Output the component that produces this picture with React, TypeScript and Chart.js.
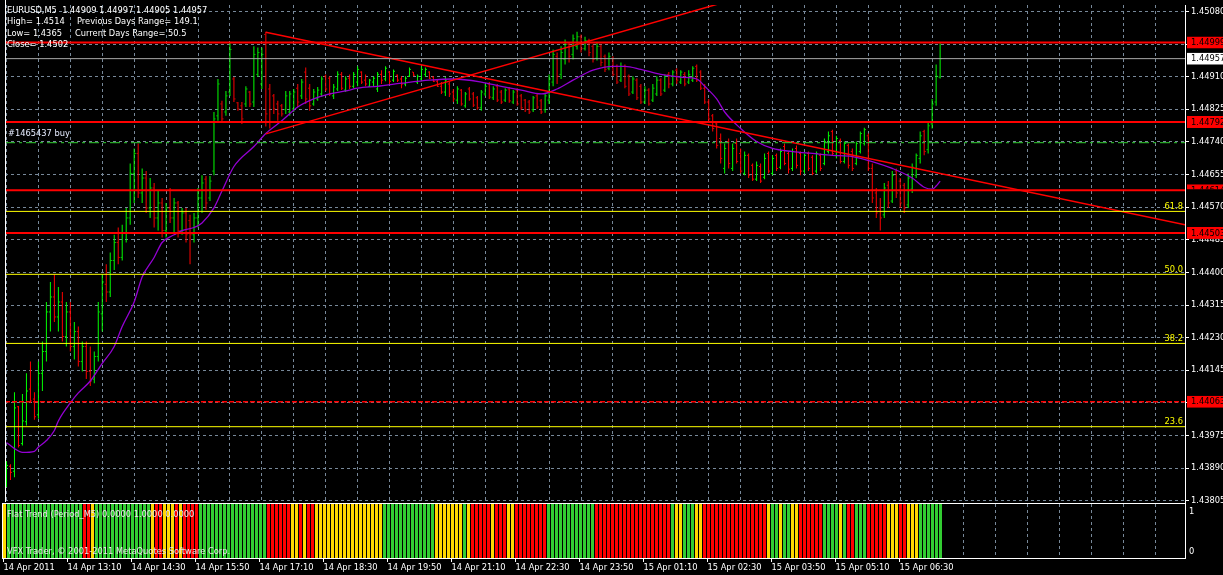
import React, { useEffect, useRef } from "react";
import { Chart, registerables } from "chart.js";

Chart.register(...registerables);

// ---------- data (EURUSD M5, bar 0 = 14 Apr 11:50) ----------
const barOpen = [
  1.43859, 1.43895, 1.43882, 1.4405, 1.43954, 1.44011, 1.44096, 1.4407, 1.44029, 1.44137,
  1.44194, 1.44297, 1.44336, 1.44284, 1.44323, 1.44233, 1.44297, 1.44207, 1.44246, 1.44168,
  1.44207, 1.44142, 1.44122, 1.44181, 1.44292, 1.44369, 1.44349, 1.44431, 1.44478, 1.44439,
  1.44504, 1.44542, 1.44658, 1.4471, 1.44607, 1.44646, 1.44568, 1.4462, 1.44542, 1.44581,
  1.44509, 1.44568, 1.44542, 1.44581, 1.44509, 1.44555, 1.44535, 1.44498, 1.44542, 1.44594,
  1.44643, 1.44594, 1.44664, 1.44808, 1.44839, 1.44818, 1.4487, 1.44904, 1.44842, 1.44834,
  1.44839, 1.4487, 1.44844, 1.44916, 1.44891, 1.4502, 1.44878, 1.4486, 1.44839, 1.44834,
  1.44824, 1.44818, 1.44826, 1.4488, 1.4486, 1.44922, 1.4488, 1.44839, 1.44852, 1.44865,
  1.44911, 1.44906, 1.4486, 1.44878, 1.44916, 1.44875, 1.44906, 1.44885, 1.44896, 1.44922,
  1.44901, 1.44885, 1.44896, 1.44878, 1.44916, 1.44904, 1.44922, 1.44901, 1.44914, 1.44904,
  1.44891, 1.44911, 1.44922, 1.44896, 1.44904, 1.44916, 1.44922, 1.44909, 1.44898, 1.44885,
  1.4487, 1.44891, 1.4487, 1.44849, 1.44875, 1.44834, 1.44878, 1.44865, 1.44855, 1.44829,
  1.44865, 1.44891, 1.44855, 1.44885, 1.4487, 1.44849, 1.44878, 1.44844, 1.44875, 1.4486,
  1.44849, 1.44844, 1.44824, 1.4486, 1.44847, 1.44824, 1.44849, 1.44896, 1.44963, 1.44916,
  1.44955, 1.44994, 1.44968, 1.44989, 1.45014, 1.44983, 1.45004, 1.44989, 1.44958, 1.44989,
  1.44963, 1.44932, 1.44958, 1.44937, 1.44901, 1.44937, 1.44911, 1.4487, 1.44901, 1.44885,
  1.44844, 1.44875, 1.44849, 1.44865, 1.44901, 1.44875, 1.44916, 1.44891, 1.44927, 1.44896,
  1.44916, 1.44896, 1.44901, 1.44937, 1.44922, 1.4488, 1.44844, 1.44808, 1.44787, 1.44749,
  1.44671, 1.44741, 1.44671, 1.44736, 1.4471, 1.44658, 1.44705, 1.44679, 1.44643, 1.44676,
  1.44648, 1.4471, 1.44658, 1.44705, 1.44674, 1.44728, 1.4471, 1.44671, 1.44723, 1.4471,
  1.44664, 1.4471, 1.447, 1.44664, 1.44705, 1.44684, 1.44715, 1.44767, 1.44705, 1.44744,
  1.44689, 1.44731, 1.44715, 1.44684, 1.44715, 1.44736, 1.44756, 1.44671, 1.44607, 1.44568,
  1.4455, 1.44627, 1.44586, 1.44664, 1.44638, 1.44627, 1.44576, 1.44617, 1.44653, 1.44697,
  1.44767, 1.4472, 1.44787, 1.44844, 1.44909,
];
const barHigh = [
  1.43908, 1.439, 1.44088, 1.44052, 1.44083, 1.44137, 1.44168, 1.44088, 1.44168, 1.4422,
  1.44323, 1.44375, 1.44395, 1.44362, 1.44349, 1.44323, 1.44323, 1.44271, 1.44259, 1.4422,
  1.4422, 1.44207, 1.44194, 1.44323, 1.44395, 1.44421, 1.44452, 1.44498, 1.44517, 1.44524,
  1.44568, 1.44684, 1.44723, 1.44736, 1.44671, 1.44664, 1.44646, 1.44633, 1.44612, 1.44594,
  1.44581, 1.4462, 1.44594, 1.44586, 1.44568, 1.44568, 1.4455, 1.44555, 1.4462, 1.44653,
  1.44651, 1.44651, 1.44818, 1.44904, 1.44847, 1.44873, 1.44999, 1.44909, 1.44844, 1.44844,
  1.44885, 1.44873, 1.44989, 1.44986, 1.44986, 1.45027, 1.44891, 1.44865, 1.44847, 1.44839,
  1.44873, 1.44873, 1.44878, 1.44891, 1.44904, 1.44934, 1.44891, 1.44878, 1.44883, 1.44911,
  1.44916, 1.44911, 1.44891, 1.44924, 1.44922, 1.44911, 1.44916, 1.44922, 1.44937, 1.44924,
  1.44916, 1.44904, 1.44911, 1.44922, 1.44927, 1.44937, 1.44924, 1.44929, 1.44916, 1.44911,
  1.44911, 1.44934, 1.44922, 1.44916, 1.44937, 1.44934, 1.44924, 1.44911, 1.44904, 1.44896,
  1.44909, 1.44896, 1.44878, 1.44885, 1.44878, 1.4487, 1.44883, 1.4487, 1.4486, 1.44875,
  1.44891, 1.44896, 1.44885, 1.44891, 1.44875, 1.4488, 1.44883, 1.44875, 1.4488, 1.44865,
  1.44852, 1.44849, 1.4486, 1.44865, 1.44852, 1.44865, 1.44916, 1.44981, 1.44973, 1.44989,
  1.45007, 1.44999, 1.4502, 1.45027, 1.4502, 1.45014, 1.45009, 1.44994, 1.44999, 1.44994,
  1.44968, 1.44973, 1.44963, 1.44942, 1.44947, 1.44942, 1.44916, 1.44911, 1.44906, 1.44891,
  1.44885, 1.4488, 1.44891, 1.44911, 1.44906, 1.44916, 1.44922, 1.44927, 1.44932, 1.44927,
  1.44922, 1.44927, 1.44937, 1.44942, 1.44927, 1.44891, 1.44852, 1.44813, 1.44793, 1.44762,
  1.44736, 1.44749, 1.44736, 1.44749, 1.44723, 1.44715, 1.4471, 1.44684, 1.44689, 1.44684,
  1.4471, 1.44715, 1.44705, 1.4471, 1.44723, 1.44736, 1.44715, 1.44723, 1.44731, 1.44715,
  1.4471, 1.44715, 1.44705, 1.44715, 1.4471, 1.44749, 1.44767, 1.44772, 1.44756, 1.44749,
  1.44741, 1.44736, 1.44723, 1.44741, 1.44767, 1.44777, 1.44762, 1.44684, 1.4462, 1.44594,
  1.44633, 1.44638, 1.44664, 1.44671, 1.44646, 1.44633, 1.44658, 1.44684, 1.4471, 1.44767,
  1.44772, 1.44793, 1.44852, 1.44942, 1.44997,
];
const barLow = [
  1.43841, 1.43859, 1.43866, 1.43944, 1.43949, 1.44001, 1.4406, 1.44016, 1.44019, 1.44091,
  1.44168, 1.44246, 1.44271, 1.44246, 1.4422, 1.44207, 1.44194, 1.44173, 1.44155, 1.44142,
  1.44122, 1.44104, 1.44111, 1.44168, 1.44246, 1.44323, 1.44336, 1.44406, 1.44421, 1.44431,
  1.44478, 1.44524, 1.44581, 1.44594, 1.44581, 1.44555, 1.44542, 1.44517, 1.44509, 1.44491,
  1.44491, 1.44529, 1.44504, 1.44491, 1.44498, 1.44478, 1.44421, 1.44478, 1.44517, 1.44555,
  1.44563, 1.44586, 1.44653, 1.44795, 1.44793, 1.44808, 1.4486, 1.44844, 1.44821, 1.44787,
  1.44831, 1.44831, 1.44831, 1.44909, 1.44878, 1.4478, 1.44775, 1.44813, 1.44795, 1.44806,
  1.44813, 1.44808, 1.44818, 1.44831, 1.44852, 1.44839, 1.44821, 1.44834, 1.44847, 1.44857,
  1.44873, 1.4486, 1.44852, 1.44873, 1.44875, 1.4487, 1.44878, 1.4488, 1.44885, 1.44891,
  1.44885, 1.44883, 1.44885, 1.4487, 1.44891, 1.44898, 1.44891, 1.44896, 1.44896, 1.4488,
  1.44885, 1.44909, 1.44911, 1.44891, 1.44898, 1.44909, 1.44904, 1.44896, 1.44883, 1.44865,
  1.4486, 1.44857, 1.44844, 1.44839, 1.44834, 1.44829, 1.44847, 1.44831, 1.44824, 1.44821,
  1.4486, 1.44852, 1.44849, 1.44844, 1.44839, 1.44844, 1.44842, 1.44839, 1.44834, 1.44824,
  1.44818, 1.44813, 1.44818, 1.44826, 1.44813, 1.44816, 1.44839, 1.44885, 1.44891, 1.44904,
  1.44942, 1.44947, 1.44955, 1.44981, 1.44973, 1.44978, 1.44963, 1.44947, 1.44952, 1.44937,
  1.44922, 1.44927, 1.44911, 1.44891, 1.44896, 1.4488, 1.4486, 1.44865, 1.44849, 1.44839,
  1.44839, 1.44834, 1.44844, 1.4486, 1.4486, 1.4487, 1.4488, 1.44885, 1.44891, 1.44891,
  1.44885, 1.44891, 1.44896, 1.44896, 1.44875, 1.44839, 1.44793, 1.44767, 1.44723, 1.44684,
  1.44658, 1.44671, 1.44664, 1.44684, 1.44658, 1.44653, 1.44646, 1.44638, 1.44638, 1.44633,
  1.44643, 1.44658, 1.44653, 1.44664, 1.44669, 1.44679, 1.44658, 1.44664, 1.44671, 1.44653,
  1.44658, 1.44664, 1.44653, 1.44658, 1.44664, 1.44679, 1.4471, 1.44705, 1.44697, 1.44684,
  1.44684, 1.44671, 1.44664, 1.44679, 1.4471, 1.44731, 1.44664, 1.44581, 1.44542, 1.44509,
  1.44542, 1.44568, 1.44581, 1.44594, 1.44568, 1.44555, 1.44568, 1.44607, 1.44646, 1.44684,
  1.44705, 1.4471, 1.44775, 1.44834, 1.44905,
];
const barClose = [
  1.43897, 1.43879, 1.44047, 1.43949, 1.44013, 1.44091, 1.44065, 1.44024, 1.44137, 1.44194,
  1.44297, 1.44336, 1.44284, 1.44323, 1.44233, 1.44297, 1.44207, 1.44246, 1.44168, 1.44207,
  1.44142, 1.44117, 1.44181, 1.44297, 1.44375, 1.44349, 1.44431, 1.44478, 1.44439, 1.44504,
  1.44542, 1.44658, 1.4471, 1.44607, 1.44646, 1.44568, 1.4462, 1.44542, 1.44581, 1.44509,
  1.44568, 1.44542, 1.44581, 1.44509, 1.44555, 1.44498, 1.44498, 1.44542, 1.44594, 1.44633,
  1.44581, 1.44638, 1.448, 1.44891, 1.448, 1.4486, 1.44981, 1.44852, 1.44826, 1.448,
  1.44878, 1.44839, 1.44968, 1.44973, 1.44968, 1.44813, 1.44793, 1.44826, 1.44813, 1.44813,
  1.4486, 1.44865, 1.4487, 1.44844, 1.44896, 1.44852, 1.44834, 1.4487, 1.44875, 1.44904,
  1.44878, 1.44865, 1.44883, 1.44916, 1.4488, 1.44904, 1.44885, 1.44916, 1.44929, 1.44896,
  1.44891, 1.44901, 1.44906, 1.44916, 1.44901, 1.44932, 1.44898, 1.44924, 1.44901, 1.44891,
  1.44906, 1.44929, 1.44914, 1.44911, 1.44929, 1.44929, 1.44906, 1.44898, 1.44885, 1.4487,
  1.44901, 1.44865, 1.44852, 1.44878, 1.44839, 1.44865, 1.44852, 1.44836, 1.44829, 1.4487,
  1.44885, 1.44857, 1.44878, 1.44849, 1.44844, 1.44875, 1.44847, 1.4487, 1.44839, 1.44829,
  1.44824, 1.44818, 1.44855, 1.44831, 1.44818, 1.4486, 1.44904, 1.44968, 1.44911, 1.44973,
  1.44994, 1.44963, 1.45009, 1.45014, 1.44983, 1.45004, 1.44973, 1.44955, 1.44989, 1.44947,
  1.44929, 1.44963, 1.44916, 1.44896, 1.44937, 1.44885, 1.44865, 1.44904, 1.44855, 1.44844,
  1.44875, 1.44839, 1.4488, 1.44901, 1.44865, 1.44911, 1.44891, 1.44922, 1.44901, 1.44922,
  1.44891, 1.44916, 1.44932, 1.44901, 1.4488, 1.44844, 1.448, 1.44775, 1.44731, 1.44697,
  1.44723, 1.44684, 1.44723, 1.44689, 1.44664, 1.44705, 1.44653, 1.44643, 1.44679, 1.44638,
  1.44697, 1.44664, 1.44697, 1.44671, 1.44715, 1.44684, 1.44669, 1.44715, 1.44679, 1.44664,
  1.44705, 1.44671, 1.44658, 1.4471, 1.44671, 1.44741, 1.44756, 1.4471, 1.44749, 1.44689,
  1.44736, 1.44679, 1.44671, 1.44736, 1.44762, 1.44772, 1.44671, 1.44594, 1.44555, 1.44542,
  1.4462, 1.44581, 1.44653, 1.44607, 1.44581, 1.44568, 1.44646, 1.44674, 1.44705, 1.44756,
  1.44715, 1.44782, 1.44839, 1.44911, 1.44957,
];

// moving average (purple) read at these bars
const maBar = [
  0, 2, 4, 7, 8, 10, 12, 13, 16, 18, 21, 24, 27, 29, 32, 34, 37, 39, 42, 44,
  47, 49, 52, 54, 57, 62, 65, 69, 73, 77, 81, 85, 88, 93, 99, 106, 112, 119, 124, 129,
  134, 138, 142, 147, 152, 155, 159, 164, 169, 173, 175, 178, 180, 184, 188, 192, 197, 202, 207, 212,
  217, 222, 227, 230, 232, 233, 234,
];
const maPrice = [
  1.43957, 1.43941, 1.43931, 1.43934, 1.43945, 1.43962, 1.43988, 1.44013, 1.4406, 1.44086,
  1.44117, 1.44163, 1.44207, 1.44259, 1.44323, 1.44388, 1.44439, 1.44478, 1.44498, 1.44509,
  1.44517, 1.44529, 1.44568, 1.44612, 1.44676, 1.44728, 1.44762, 1.44795, 1.44831, 1.44852,
  1.44865, 1.44873, 1.4488, 1.44885, 1.44893, 1.44901, 1.44904, 1.44896, 1.44885, 1.44875,
  1.44865, 1.44878, 1.44901, 1.44927, 1.44937, 1.44937, 1.44929, 1.44916, 1.44909, 1.44904,
  1.44885, 1.44852, 1.44818, 1.44775, 1.44741, 1.44723, 1.44715, 1.4471, 1.44705, 1.44702,
  1.44689, 1.44671, 1.44646, 1.44622, 1.44617, 1.44625, 1.44638,
];

// Flat Trend indicator state per bar: G = up, Y = flat, R = down
const flatTrend = (
  "YGGGGGGGGG" + "GGGGGGGGGG" + "RRYGGGGGGG" + "GGGGGGGYRR" + "YYYRYRRRRG" +
  "GGGGGGGGGG" + "GGGGGGRRRR" + "RRYYRYRRYY" + "YYYYYYYYYY" + "YYYYYGGGGG" +
  "GGGGGGGGYY" + "YYYYYGYRRR" + "RRYRRRYYRR" + "RRRRRRGGGG" + "GGGGGGGGRR" +
  "RRRRRRRRRR" + "RRRRRRRGYY" + "GGGYYRRRRR" + "RRRRRRRRRR" + "RYGGYGGYYR" +
  "RRRRRGGGGY" + "GRRGGGRRRR" + "RYYYRRYYYG" + "GGGGG"
).split("");

const timeLabels = [
  "14 Apr 2011", "14 Apr 13:10", "14 Apr 14:30", "14 Apr 15:50", "14 Apr 17:10",
  "14 Apr 18:30", "14 Apr 19:50", "14 Apr 21:10", "14 Apr 22:30", "14 Apr 23:50",
  "15 Apr 01:10", "15 Apr 02:30", "15 Apr 03:50", "15 Apr 05:10", "15 Apr 06:30",
];
const priceTicks = [
  1.4508, 1.44995, 1.4491, 1.44825, 1.4474, 1.44655, 1.4457, 1.44485,
  1.444, 1.44315, 1.4423, 1.44145, 1.4406, 1.43975, 1.4389, 1.43805,
];

const redLevels = [1.44999, 1.44792, 1.44614, 1.44503];
const redDashedLevel = 1.44063;
const bidPrice = 1.44957;
const tradePrice = 1.44738;
const fibLevels = ["61.8", "50.0", "38.2", "23.6"];
const fibPrices = [1.44559, 1.44395, 1.44215, 1.43998];
const trendDownBars = [65, 295.4];
const trendDownPrices = [1.45026, 1.44524];
const trendUpBars = [65, 200];
const trendUpPrices = [1.44761, 1.45164];

// ---------- styling ----------
const XMIN = -0.375;
const XMAX = 295.375;
const YMIN = 1.438018;
const YMAX = 1.450968;
const GRID = "#778899";
const BULL = "#00ff00";
const BEAR = "#ff0000";
const RED = "#ff0000";
const YELLOW = "#ffff00";
const FONT = '"DejaVu Sans", "Liberation Sans", sans-serif';
const FS = 8.3;
const trendColor: Record<string, string> = { G: "#32cd32", Y: "#ffd700", R: "#ff0000" };

const gridBars = Array.from({ length: 37 }, (_, k) => k * 8);

function levelLine(price: number, color: string, width: number, dash: number[] = []) {
  return {
    type: "line",
    data: [{ x: XMIN, y: price }, { x: XMAX, y: price }],
    borderColor: color,
    borderWidth: width,
    borderDash: dash,
    pointRadius: 0,
    order: 1,
  } as any;
}

const priceMarks = [
  { price: redLevels[0], bg: RED, fg: "#000000", partial: false },
  { price: bidPrice, bg: "#ffffff", fg: "#000000", partial: false },
  { price: redLevels[1], bg: RED, fg: "#000000", partial: false },
  { price: redLevels[2], bg: RED, fg: "#000000", partial: true },
  { price: redLevels[3], bg: RED, fg: "#000000", partial: false },
  { price: redDashedLevel, bg: RED, fg: "#000000", partial: false },
];

const mainOverlay = {
  id: "mainOverlay",
  afterDraw(chart: any) {
    const { ctx, chartArea: a } = chart;
    const y = chart.scales.y;
    ctx.save();
    ctx.strokeStyle = "#ffffff";
    ctx.lineWidth = 1;
    ctx.beginPath();
    ctx.moveTo(a.left + 0.5, 0);
    ctx.lineTo(a.left + 0.5, a.bottom);
    ctx.stroke();

    ctx.font = `${FS}px ${FONT}`;
    ctx.fillStyle = YELLOW;
    ctx.textAlign = "right";
    ctx.textBaseline = "alphabetic";
    fibPrices.forEach((p, k) => {
      ctx.fillText(fibLevels[k], a.right - 2, y.getPixelForValue(p) - 2.5);
    });

    ctx.textAlign = "left";
    ctx.textBaseline = "middle";
    priceMarks.forEach((m) => {
      const py = y.getPixelForValue(m.price);
      ctx.save();
      ctx.beginPath();
      if (m.partial) ctx.rect(a.right + 2, py - 6, 40, 5);
      else ctx.rect(a.right + 2, py - 6, 40, 12);
      ctx.clip();
      ctx.fillStyle = m.bg;
      ctx.fillRect(a.right + 2, py - 6, 40, 12);
      ctx.fillStyle = m.fg;
      ctx.fillText(m.price.toFixed(5), a.right + 6, py + 0.5);
      ctx.restore();
    });
    ctx.restore();
  },
};

const indOverlay = {
  id: "indOverlay",
  afterDraw(chart: any) {
    const { ctx, chartArea: a } = chart;
    const y = chart.scales.y;
    ctx.save();
    ctx.strokeStyle = "#ffffff";
    ctx.lineWidth = 1;
    ctx.strokeRect(a.left + 0.5, a.top - 0.5, a.right - a.left, a.bottom - a.top + 1);
    ctx.font = `${FS}px ${FONT}`;
    ctx.fillStyle = "#ffffff";
    ctx.textAlign = "left";
    ctx.textBaseline = "middle";
    ctx.fillText("1", a.right + 4, y.getPixelForValue(1) + 7.5);
    ctx.fillText("0", a.right + 4, y.getPixelForValue(0) - 6);
    ctx.restore();
  },
};

function mainConfig(): any {
  const idx = barOpen.map((_, i) => i);
  const colors = idx.map((i) => (barClose[i] >= barOpen[i] ? BULL : BEAR));
  return {
    type: "bar",
    data: {
      datasets: [
        ...redLevels.map((p) => levelLine(p, RED, 2)),
        levelLine(redDashedLevel, RED, 1.5, [5, 2]),
        ...fibPrices.map((p) => levelLine(p, YELLOW, 1)),
        levelLine(bidPrice, "#a9a9a9", 1),
        levelLine(tradePrice, "#32cd32", 1, [10, 4, 3, 4]),
        {
          type: "line",
          data: trendDownBars.map((b, k) => ({ x: b, y: trendDownPrices[k] })),
          borderColor: RED,
          borderWidth: 1.5,
          pointRadius: 0,
          order: 1,
        },
        {
          type: "line",
          data: trendUpBars.map((b, k) => ({ x: b, y: trendUpPrices[k] })),
          borderColor: RED,
          borderWidth: 1.5,
          pointRadius: 0,
          order: 1,
        },
        {
          type: "line",
          data: maBar.map((b, k) => ({ x: b, y: maPrice[k] })),
          borderColor: "#9400d3",
          borderWidth: 1.3,
          pointRadius: 0,
          cubicInterpolationMode: "monotone",
          order: 2,
        },
        {
          type: "line",
          data: idx.map((i) => ({ x: i - 0.25, y: barOpen[i] })),
          showLine: false,
          pointStyle: "line",
          pointRadius: 0.5,
          pointBorderWidth: 1,
          pointBorderColor: colors,
          order: 3,
        },
        {
          type: "line",
          data: idx.map((i) => ({ x: i + 0.25, y: barClose[i] })),
          showLine: false,
          pointStyle: "line",
          pointRadius: 0.5,
          pointBorderWidth: 1,
          pointBorderColor: colors,
          order: 3,
        },
        {
          type: "bar",
          data: idx.map((i) => ({ x: i, y: [barLow[i], barHigh[i]] })),
          backgroundColor: colors,
          barThickness: 1,
          borderWidth: 0,
          inflateAmount: 0,
          order: 4,
        },
      ],
    },
    options: {
      animation: false,
      responsive: false,
      events: [],
      layout: { padding: { left: 2, top: 0, right: 0, bottom: 10 } },
      plugins: { legend: { display: false }, tooltip: { enabled: false } },
      scales: {
        x: {
          type: "linear",
          min: XMIN,
          max: XMAX,
          offset: false,
          grid: { offset: false, color: GRID, lineWidth: 1, drawTicks: false },
          border: { display: false, dash: [3, 3] },
          ticks: { display: false },
          afterBuildTicks: (s: any) => {
            s.ticks = gridBars.map((v) => ({ value: v }));
          },
          afterFit: (s: any) => {
            s.height = 0;
            s.paddingLeft = 0;
            s.paddingRight = 0;
          },
        },
        y: {
          type: "linear",
          position: "right",
          min: YMIN,
          max: YMAX,
          grid: { color: GRID, lineWidth: 1, tickColor: "#ffffff", tickLength: 4, tickBorderDash: [] },
          border: { display: true, color: "#ffffff", width: 1, dash: [3, 3] },
          ticks: {
            color: "#ffffff",
            font: { family: FONT, size: FS },
            padding: 2,
            autoSkip: false,
            callback: (v: any) => Number(v).toFixed(5),
          },
          afterBuildTicks: (s: any) => {
            s.ticks = priceTicks.map((v) => ({ value: v }));
          },
          afterFit: (s: any) => {
            s.width = 38;
            s.paddingTop = 0;
            s.paddingBottom = 0;
          },
        },
      },
    },
    plugins: [mainOverlay],
  };
}

function indConfig(): any {
  const idx = barOpen.map((_, i) => i);
  return {
    type: "bar",
    data: {
      datasets: [
        {
          type: "bar",
          data: idx.map((i) => ({ x: i + 0.25, y: 1 })),
          backgroundColor: idx.map((i) => trendColor[flatTrend[i]] || "#000"),
          barThickness: 3,
          borderWidth: 0,
          inflateAmount: 0,
        },
      ],
    },
    options: {
      animation: false,
      responsive: false,
      events: [],
      layout: { padding: { left: 2, top: 1, right: 0, bottom: 0 } },
      plugins: { legend: { display: false }, tooltip: { enabled: false } },
      scales: {
        x: {
          type: "linear",
          min: XMIN,
          max: XMAX,
          offset: false,
          grid: {
            offset: false,
            color: GRID,
            lineWidth: 1,
            tickLength: 4,
            tickBorderDash: [],
            tickColor: (c: any) =>
              c.index % 2 === 0 && c.index / 2 < timeLabels.length ? "#ffffff" : "rgba(0,0,0,0)",
          },
          border: { display: true, color: "#ffffff", dash: [3, 3] },
          ticks: {
            color: "#ffffff",
            font: { family: FONT, size: FS },
            padding: 1,
            align: "start",
            maxRotation: 0,
            autoSkip: false,
            callback: (_v: any, index: number) => (index % 2 === 0 ? timeLabels[index / 2] || "" : ""),
          },
          afterBuildTicks: (s: any) => {
            s.ticks = gridBars.map((v) => ({ value: v }));
          },
          afterFit: (s: any) => {
            s.height = 17;
            s.paddingLeft = 0;
            s.paddingRight = 0;
          },
        },
        y: {
          type: "linear",
          position: "right",
          min: 0,
          max: 1,
          grid: { display: false },
          border: { display: true, color: "#ffffff" },
          ticks: { display: false },
          afterFit: (s: any) => {
            s.width = 38;
            s.paddingTop = 0;
            s.paddingBottom = 0;
          },
        },
      },
    },
    plugins: [indOverlay],
  };
}

const textStyle: React.CSSProperties = {
  position: "absolute",
  fontFamily: FONT,
  fontSize: FS,
  lineHeight: "12px",
  whiteSpace: "pre",
  color: "#ffffff",
};

const overlayTexts = [
  { x: 7, y: 10, t: "EURUSD,M5  1.44909 1.44997 1.44905 1.44957", c: "#ffffff" },
  { x: 7, y: 21.3, t: "High= 1.4514", c: "#ffffff" },
  { x: 77, y: 21.3, t: "Previous Days Range= 149.1", c: "#ffffff" },
  { x: 7, y: 32.7, t: "Low= 1.4365", c: "#ffffff" },
  { x: 75, y: 32.7, t: "Current Days Range= 50.5", c: "#ffffff" },
  { x: 7, y: 44, t: "Close= 1.4502", c: "#ffffff" },
  { x: 8, y: 133, t: "#1465437 buy", c: "#e6ecff" },
  { x: 7, y: 514, t: "Flat Trend (Period_M5) 0.0000 1.0000 0.0000", c: "#e8e8e8" },
  { x: 7, y: 551, t: "VFX Trader, \u00a9 2001-2011 MetaQuotes Software Corp.", c: "#e8e8e8" },
];

export default function App() {
  const mainRef = useRef<HTMLCanvasElement>(null);
  const indRef = useRef<HTMLCanvasElement>(null);

  useEffect(() => {
    const main = new Chart(mainRef.current as HTMLCanvasElement, mainConfig());
    const ind = new Chart(indRef.current as HTMLCanvasElement, indConfig());
    return () => {
      main.destroy();
      ind.destroy();
    };
  }, []);

  return (
    <div
      style={{
        position: "fixed",
        left: 0,
        top: 0,
        width: 1223,
        height: 575,
        background: "#000000",
        overflow: "hidden",
      }}
    >
      <canvas ref={mainRef} width={1223} height={512} style={{ position: "absolute", left: 0, top: 0 }} />
      <canvas ref={indRef} width={1223} height={72} style={{ position: "absolute", left: 0, top: 503 }} />
      {overlayTexts.map((o, k) => (
        <div key={k} style={{ ...textStyle, left: o.x, top: o.y - 6, color: o.c }}>
          {o.t}
        </div>
      ))}
    </div>
  );
}
